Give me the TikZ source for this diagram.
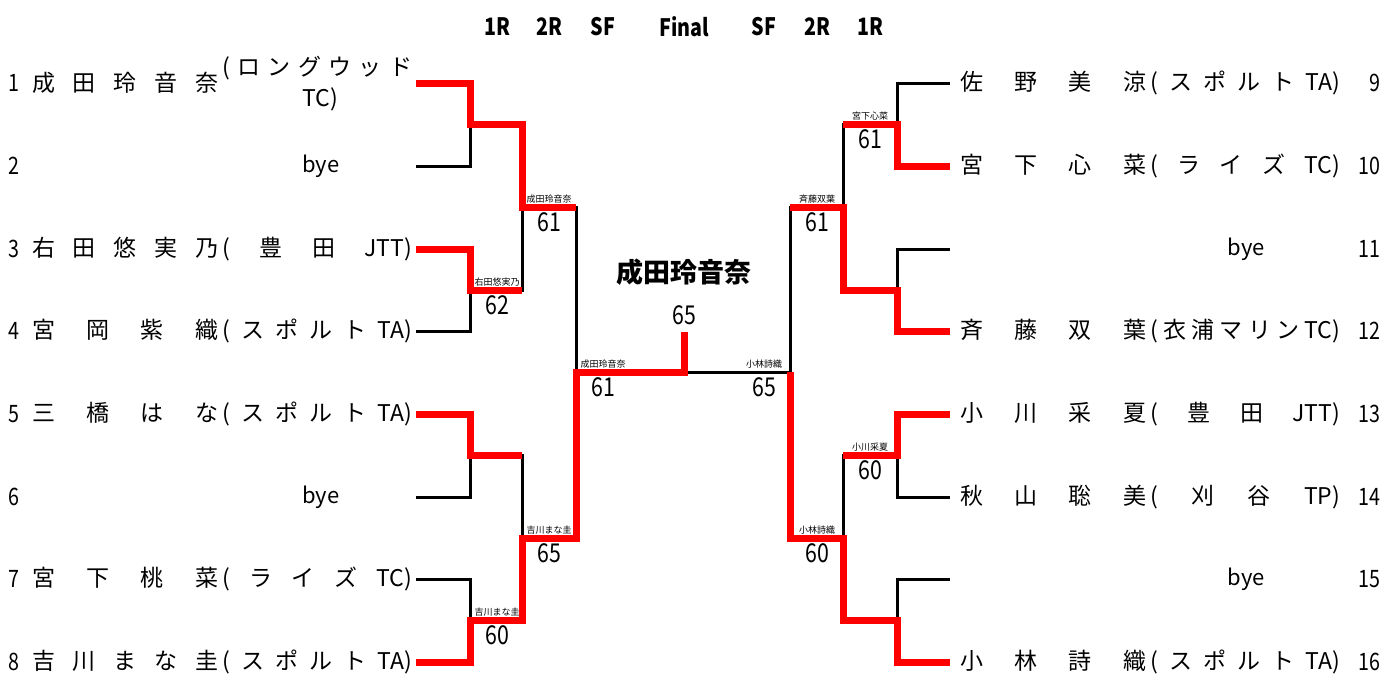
\documentclass[tikz,border=0pt]{standalone}
\usepackage{fontspec}
\setmainfont{Noto Sans CJK JP}
\newfontfamily\narrowfont[FakeStretch=0.82]{Noto Sans CJK JP}
\tikzset{
  loser/.style={line width=3pt},
  winner/.style={line width=7pt, red},
  head/.style={font=\narrowfont\bfseries\fontsize{24}{26}\selectfont, inner sep=0pt},
  seed/.style={font=\narrowfont\fontsize{24}{26}\selectfont, inner sep=0pt},
  player/.style={font=\fontsize{23}{25}\selectfont, inner sep=0pt, anchor=west},
  bye/.style={font=\fontsize{22}{24}\selectfont, inner sep=0pt},
  tag/.style={font=\fontsize{9}{10}\selectfont, inner sep=0pt, anchor=south, yshift=4pt},
  score/.style={font=\narrowfont\fontsize{26}{28}\selectfont, inner sep=0pt, anchor=north, yshift=-5pt},
  champ/.style={font=\bfseries\fontsize{27}{29}\selectfont, inner sep=0pt},
}
\newcommand{\entry}[2]{\makebox[186pt]{#1}\hspace{4pt}\makebox[190pt]{#2}}

\begin{document}
\begin{tikzpicture}[x=1pt,y=-1pt]
  \useasboundingbox (0,0) rectangle (1386,673);

  % round headers
  \node[head] (hLa) at (497,27) {1R};
  \node[head] (hLb) at (549,27) {2R};
  \node[head] (hLc) at (603,27) {SF};
  \node[head] (hF) at (684,27) {Final};
  \node[head] (hRc) at (764,27) {SF};
  \node[head] (hRb) at (817,27) {2R};
  \node[head] (hRa) at (870,27) {1R};

  % slot ends
  \coordinate (p1) at (416,83);
  \coordinate (p2) at (416,166);
  \coordinate (p3) at (416,249);
  \coordinate (p4) at (416,331);
  \coordinate (p5) at (416,414);
  \coordinate (p6) at (416,497);
  \coordinate (p7) at (416,579);
  \coordinate (p8) at (416,662);
  \coordinate (p9) at (950,83);
  \coordinate (p10) at (950,166);
  \coordinate (p11) at (950,249);
  \coordinate (p12) at (950,331);
  \coordinate (p13) at (950,414);
  \coordinate (p14) at (950,497);
  \coordinate (p15) at (950,579);
  \coordinate (p16) at (950,662);

  % match points
  \coordinate (a1) at (470,124.5);
  \coordinate (a2) at (470,290);
  \coordinate (a3) at (470,455.5);
  \coordinate (a4) at (470,620.5);
  \coordinate (a5) at (897,124.5);
  \coordinate (a6) at (897,290);
  \coordinate (a7) at (897,455.5);
  \coordinate (a8) at (897,620.5);
  \coordinate (b1) at (522,207);
  \coordinate (b2) at (522,538);
  \coordinate (b3) at (843,207);
  \coordinate (b4) at (843,538);
  \coordinate (c1) at (576,372);
  \coordinate (c2) at (790,372);
  \coordinate (f) at (684,372);
  \coordinate (ftop) at (684,332);

  % bracket
  \draw[loser] (p1) -| (a1);
  \draw[loser] (p2) -| (a1);
  \draw[loser] (p3) -| (a2);
  \draw[loser] (p4) -| (a2);
  \draw[loser] (p5) -| (a3);
  \draw[loser] (p6) -| (a3);
  \draw[loser] (p7) -| (a4);
  \draw[loser] (p8) -| (a4);
  \draw[loser] (p9) -| (a5);
  \draw[loser] (p10) -| (a5);
  \draw[loser] (p11) -| (a6);
  \draw[loser] (p12) -| (a6);
  \draw[loser] (p13) -| (a7);
  \draw[loser] (p14) -| (a7);
  \draw[loser] (p15) -| (a8);
  \draw[loser] (p16) -| (a8);
  \draw[loser] (a1) -| (b1);
  \draw[loser] (a2) -| (b1);
  \draw[loser] (a3) -| (b2);
  \draw[loser] (a4) -| (b2);
  \draw[loser] (a5) -| (b3);
  \draw[loser] (a6) -| (b3);
  \draw[loser] (a7) -| (b4);
  \draw[loser] (a8) -| (b4);
  \draw[loser] (b1) -| (c1);
  \draw[loser] (b2) -| (c1);
  \draw[loser] (b3) -| (c2);
  \draw[loser] (b4) -| (c2);
  \draw[loser] (c1) -- (c2);

  % winners
  \draw[winner] (p1) -| (a1) -| (b1) -- (b1 -| c1);
  \draw[winner] (p3) -| (a2) -- (a2 -| b1);
  \draw[winner] (p5) -| (a3) -- (a3 -| b2);
  \draw[winner] (p8) -| (a4) -| (b2) -| (c1) -- (f) -- (ftop);
  \draw[winner] (p10) -| (a5) -- (a5 -| b3);
  \draw[winner] (p12) -| (a6) -| (b3) -- (b3 -| c2);
  \draw[winner] (p13) -| (a7) -- (a7 -| b4);
  \draw[winner] (p16) -| (a8) -| (b4) -| (c2);

  % left players
  \node[seed, anchor=west] (s1) at (8,83) {1};
  \node[player] (n1) at (32,83) {\makebox[186pt]{成\hfill 田\hfill 玲\hfill 音\hfill 奈}};
  \node[player] (k1) at (222,68) {\makebox[190pt]{(\hfill ロ\hfill ン\hfill グ\hfill ウ\hfill ッ\hfill ド}};
  \node[player, anchor=center] (k1b) at (320,99) {TC)};
  \node[seed, anchor=west] (s2) at (8,166) {2};
  \node[bye] (n2) at (321,166) {bye};
  \node[seed, anchor=west] (s3) at (8,249) {3};
  \node[player] (n3) at (32,249) {\entry{右\hfill 田\hfill 悠\hfill 実\hfill 乃}{(\hfill 豊\hfill 田\hfill JTT)}};
  \node[seed, anchor=west] (s4) at (8,331) {4};
  \node[player] (n4) at (32,331) {\entry{宮\hfill 岡\hfill 紫\hfill 織}{(\hfill ス\hfill ポ\hfill ル\hfill ト\hfill TA)}};
  \node[seed, anchor=west] (s5) at (8,414) {5};
  \node[player] (n5) at (32,414) {\entry{三\hfill 橋\hfill は\hfill な}{(\hfill ス\hfill ポ\hfill ル\hfill ト\hfill TA)}};
  \node[seed, anchor=west] (s6) at (8,497) {6};
  \node[bye] (n6) at (321,497) {bye};
  \node[seed, anchor=west] (s7) at (8,579) {7};
  \node[player] (n7) at (32,579) {\entry{宮\hfill 下\hfill 桃\hfill 菜}{(\hfill ラ\hfill イ\hfill ズ\hfill TC)}};
  \node[seed, anchor=west] (s8) at (8,662) {8};
  \node[player] (n8) at (32,662) {\entry{吉\hfill 川\hfill ま\hfill な\hfill 圭}{(\hfill ス\hfill ポ\hfill ル\hfill ト\hfill TA)}};

  % right players
  \node[player] (n9) at (960,83) {\entry{佐\hfill 野\hfill 美\hfill 涼}{(\hfill ス\hfill ポ\hfill ル\hfill ト\hfill TA)}};
  \node[seed, anchor=east] (s9) at (1381,83) {9};
  \node[player] (n10) at (960,166) {\entry{宮\hfill 下\hfill 心\hfill 菜}{(\hfill ラ\hfill イ\hfill ズ\hfill TC)}};
  \node[seed, anchor=east] (s10) at (1381,166) {10};
  \node[bye] (n11) at (1246,249) {bye};
  \node[seed, anchor=east] (s11) at (1381,249) {11};
  \node[player] (n12) at (960,331) {\entry{斉\hfill 藤\hfill 双\hfill 葉}{(\hfill 衣\hfill 浦\hfill マ\hfill リ\hfill ン\hfill TC)}};
  \node[seed, anchor=east] (s12) at (1381,331) {12};
  \node[player] (n13) at (960,414) {\entry{小\hfill 川\hfill 采\hfill 夏}{(\hfill 豊\hfill 田\hfill JTT)}};
  \node[seed, anchor=east] (s13) at (1381,414) {13};
  \node[player] (n14) at (960,497) {\entry{秋\hfill 山\hfill 聡\hfill 美}{(\hfill 刈\hfill 谷\hfill TP)}};
  \node[seed, anchor=east] (s14) at (1381,497) {14};
  \node[bye] (n15) at (1246,579) {bye};
  \node[seed, anchor=east] (s15) at (1381,579) {15};
  \node[player] (n16) at (960,662) {\entry{小\hfill 林\hfill 詩\hfill 織}{(\hfill ス\hfill ポ\hfill ル\hfill ト\hfill TA)}};
  \node[seed, anchor=east] (s16) at (1381,662) {16};

  % results
  \node[tag] (t2) at (hLa |- a2) {右田悠実乃};
  \node[score] (r2) at (hLa |- a2) {62};
  \node[tag] (t4) at (hLa |- a4) {吉川まな圭};
  \node[score] (r4) at (hLa |- a4) {60};
  \node[tag] (tb1) at (hLb |- b1) {成田玲音奈};
  \node[score] (rb1) at (hLb |- b1) {61};
  \node[tag] (tb2) at (hLb |- b2) {吉川まな圭};
  \node[score] (rb2) at (hLb |- b2) {65};
  \node[tag] (tc1) at (hLc |- c1) {成田玲音奈};
  \node[score] (rc1) at (hLc |- c1) {61};
  \node[tag] (t5) at (hRa |- a5) {宮下心菜};
  \node[score] (r5) at (hRa |- a5) {61};
  \node[tag] (t7) at (hRa |- a7) {小川采夏};
  \node[score] (r7) at (hRa |- a7) {60};
  \node[tag] (tb3) at (hRb |- b3) {斉藤双葉};
  \node[score] (rb3) at (hRb |- b3) {61};
  \node[tag] (tb4) at (hRb |- b4) {小林詩織};
  \node[score] (rb4) at (hRb |- b4) {60};
  \node[tag] (tc2) at (hRc |- c2) {小林詩織};
  \node[score] (rc2) at (hRc |- c2) {65};

  % champion
  \node[champ] (win) at (684,272) {成田玲音奈};
  \node[score, anchor=center, yshift=0pt] (winscore) at (684,310) {65};
\end{tikzpicture}
\end{document}
